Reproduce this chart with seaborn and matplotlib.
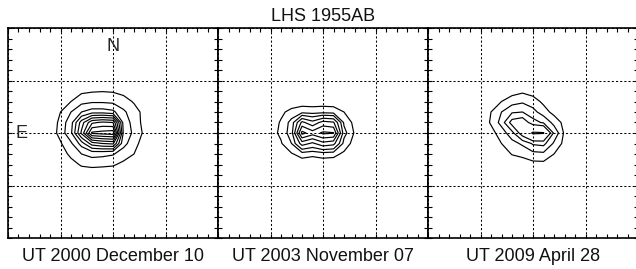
import numpy as np
import matplotlib
matplotlib.use("Agg")
import matplotlib.pyplot as plt
from matplotlib.ticker import MultipleLocator
import seaborn as sns

# ---------------- data ----------------
title = "LHS 1955AB"
panel_labels = ["UT 2000 December 10", "UT 2003 November 07", "UT 2009 April 28"]

# image pixel grid (offset units, E left / N up), rows listed from top (N) to bottom
x_nodes = [-0.7, -0.6, -0.5, -0.4, -0.3, -0.2, -0.1, 0.0, 0.1, 0.2, 0.3, 0.4, 0.5]
y_nodes_top_down = [0.6, 0.5, 0.4, 0.3, 0.2, 0.1, 0.0, -0.1, -0.2, -0.3, -0.4, -0.5]

img_2000 = [
    [0, 0, 0, 0, 0, 0, 0, 0, 0, 0, 0, 0, 0],
    [0, 0, 0, 1, 2, 2, 2, 2, 1, 0, 0, 0, 0],
    [0, 0, 2, 4, 6, 7, 7.5, 7, 5, 3, 1, 0, 0],
    [0, 1, 5, 8, 14, 16, 16, 15, 12, 7, 3, 1, 0],
    [0, 2, 8, 18, 30, 36, 36, 33, 20, 12, 5, 1, 0],
    [0, 3, 10, 26, 55, 78, 82, 80, 26, 13, 5, 1, 0],
    [0, 3, 11, 28, 62, 102, 104, 106, 28, 15, 6, 1, 0],
    [0, 2, 7, 16, 35, 55, 60, 62, 22, 11, 4, 1, 0],
    [0, 1, 4, 10, 18, 22, 21, 19, 12, 8, 2, 0, 0],
    [0, 0, 2, 5, 9, 10, 9.5, 9, 6, 3, 1, 0, 0],
    [0, 0, 1, 2, 3, 3, 3, 2, 1, 0, 0, 0, 0],
    [0, 0, 0, 0, 0, 0, 0, 0, 0, 0, 0, 0, 0],
]
img_2003 = [
    [0, 0, 0, 0, 0, 0, 0, 0, 0, 0, 0, 0, 0],
    [0, 0, 0, 0, 0, 0, 0, 0, 0, 0, 0, 0, 0],
    [0, 0, 0, 0, 0, 1, 1, 1, 1, 0, 0, 0, 0],
    [0, 0, 0, 1, 2, 3, 3, 3, 3, 2, 1, 0, 0],
    [0, 0, 1, 6, 11, 14, 13, 14, 13, 8, 3, 0, 0],
    [0, 0, 3, 9, 22, 64, 50, 66, 62, 16, 5, 1, 0],
    [0, 0, 4, 10, 24, 95, 82, 93, 91, 22, 7, 1, 0],
    [0, 0, 2, 7, 18, 52, 42, 55, 50, 14, 4, 0, 0],
    [0, 0, 1, 3, 7, 12, 10, 12, 11, 6, 2, 0, 0],
    [0, 0, 0, 1, 2, 2, 2, 2, 2, 1, 0, 0, 0],
    [0, 0, 0, 0, 0, 0, 0, 0, 0, 0, 0, 0, 0],
    [0, 0, 0, 0, 0, 0, 0, 0, 0, 0, 0, 0, 0],
]
img_2009 = [
    [0, 0, 0, 0, 0, 0, 0, 0, 0, 0, 0, 0, 0],
    [0, 0, 0, 0, 0, 1, 1, 1, 0, 0, 0, 0, 0],
    [0, 0, 0, 1, 2, 4, 6, 4, 1, 0, 0, 0, 0],
    [0, 0, 0, 3, 8, 13, 16, 12, 6, 2, 0, 0, 0],
    [0, 0, 2, 8, 18, 28, 30, 22, 12, 5, 1, 0, 0],
    [0, 0, 2, 9, 22, 52, 58, 35, 28, 14, 5, 1, 0],
    [0, 0, 1, 5, 12, 25, 55, 84, 82, 27, 6, 1, 0],
    [0, 0, 0, 4, 8, 14, 20, 32, 34, 16, 5, 0, 0],
    [0, 0, 0, 1, 3, 8.5, 10, 14, 15, 8, 2, 0, 0],
    [0, 0, 0, 0, 1, 2, 4, 5, 5, 3, 1, 0, 0],
    [0, 0, 0, 0, 0, 0, 1, 1, 1, 0, 0, 0, 0],
    [0, 0, 0, 0, 0, 0, 0, 0, 0, 0, 0, 0, 0],
]

levels_2000 = [8, 18, 30, 40, 50, 60, 70, 80, 90, 100]
levels_2003 = [8, 18, 30, 45, 60, 75, 90]
levels_2009 = [8, 18, 30, 45, 80]

# ---------------- style ----------------
sns.set_theme(style="white")
plt.rcParams["font.family"] = ["Liberation Sans", "DejaVu Sans"]

W, H = 636, 269
fig = plt.figure(figsize=(W / 100, H / 100), dpi=100)

xg = np.array(x_nodes)
yg = np.array(y_nodes_top_down)[::-1]

panels = [(img_2000, levels_2000), (img_2003, levels_2003), (img_2009, levels_2009)]
lefts = [8, 218, 428]
axes = []
for i, (img, lev) in enumerate(panels):
    ax = fig.add_axes([lefts[i] / W, (H - 238) / H, 210 / W, 210 / H])
    Z = np.array(img, dtype=float)[::-1]
    ax.contour(xg, yg, Z, levels=lev, colors="black", linewidths=0.85)
    ax.set_xlim(-1, 1)
    ax.set_ylim(-1, 1)
    ax.xaxis.set_major_locator(MultipleLocator(0.5))
    ax.yaxis.set_major_locator(MultipleLocator(0.5))
    ax.xaxis.set_minor_locator(MultipleLocator(0.1))
    ax.yaxis.set_minor_locator(MultipleLocator(0.1))
    ax.tick_params(which="both", direction="in", top=True, right=True,
                   bottom=True, left=True, length=3, width=0.8, color="black",
                   labelbottom=False, labelleft=False)
    ax.grid(True, which="major", color="black", linewidth=0.75,
            linestyle=(0, (2, 2)))
    for s in ax.spines.values():
        s.set_linewidth(1.2)
        s.set_color("black")
        s.set_visible(True)
    ax.set_facecolor("white")
    fig.text((lefts[i] + 105) / W, (H - 261) / H, panel_labels[i],
             ha="center", va="baseline", fontsize=13, color="#111111")
    axes.append(ax)

axes[0].text(0.0, 0.824, "N", ha="center", va="center", fontsize=13)
axes[0].text(-0.867, 0.0, "E", ha="center", va="center", fontsize=13)

fig.text(323 / W, (H - 21) / H, title, ha="center", va="baseline",
         fontsize=13, color="#111111")

fig.savefig("out.png", dpi=100, facecolor="white")
